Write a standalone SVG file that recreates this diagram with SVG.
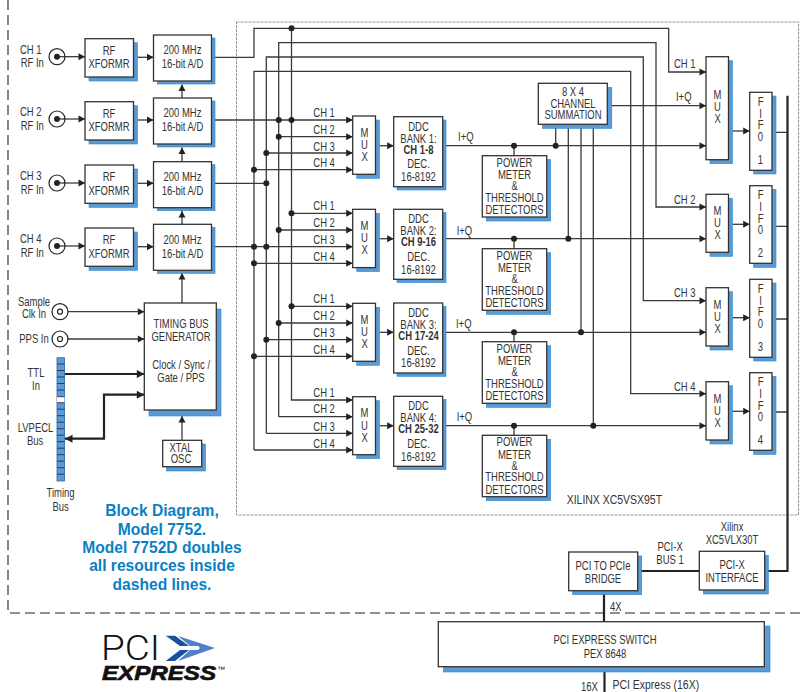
<svg xmlns="http://www.w3.org/2000/svg" width="804" height="692" viewBox="0 0 804 692">
<defs>
<style>
text{font-family:"Liberation Sans",Arial,sans-serif;font-size:12.3px;fill:#333;transform-box:fill-box;transform-origin:0 50%;transform:scaleX(.77)}
.m{text-anchor:middle;transform-origin:50% 50%}
.b{font-weight:bold}
.l{font-size:13.6px}
.box{fill:#fff;stroke:#333;stroke-width:1.3}
.sh{fill:#5b9bd5;stroke:#2b88cc;stroke-width:.6}
.w{fill:none;stroke:#3a3a3a;stroke-width:1.3}
.a{marker-end:url(#ah)}
.t{fill:none;stroke:#222;stroke-width:2.2}
.d{fill:#222}
.blue{font-weight:bold;font-size:15.6px;fill:#0a7fc4;text-anchor:middle;transform:none}
.logo{fill:#111;transform:none}
</style>
<marker id="ah" markerUnits="userSpaceOnUse" markerWidth="8" markerHeight="8" refX="7" refY="4" orient="auto"><path d="M0.5,0.5L7,4L0.5,7.5z" fill="#222"/></marker>
<marker id="ahl" markerUnits="userSpaceOnUse" markerWidth="9" markerHeight="9" refX="8" refY="4.5" orient="auto-start-reverse"><path d="M0.5,0.5L8,4.5L0.5,8.5z" fill="#222"/></marker>
</defs>
<rect width="804" height="692" fill="#fff"/>
<g id="frames">
<path d="M8,0V613H804" fill="none" stroke="#222" stroke-width="1.1" stroke-dasharray="10 5"/>
<rect x="236.5" y="22" width="562" height="493" fill="none" stroke="#999" stroke-width="1" stroke-dasharray="3 1"/>
</g>
<g id="connectors">
<path class="w a" d="M57,56.7H85"/><path class="w a" d="M57,119H85"/><path class="w a" d="M57,183H85"/><path class="w a" d="M57,246H85"/>
<path class="w a" d="M137.5,57.3H153.5"/><path class="w a" d="M137.5,120H153.5"/><path class="w a" d="M137.5,183.3H153.5"/><path class="w a" d="M137.5,246.7H153.5"/>
<path class="w a" d="M182,98V84.5"/><path class="w a" d="M182,161.7V147.5"/><path class="w a" d="M182,224.3V211"/><path class="w a" d="M182,303V273"/>
<path class="w a" d="M60,311.7H144.3"/><path class="w a" d="M60,339H144.3"/>
<path class="t" d="M64.5,374H144.3" marker-end="url(#ahl)"/>
<path class="t" d="M144.3,394.7H104V438.7H65" marker-start="url(#ahl)" marker-end="url(#ahl)"/>
<path class="w a" d="M182,440.3V416"/>
<path class="w a" d="M215,57.3H254V28.3H668.7V72H706"/>
<path class="w a" d="M278.7,416.7V42.7H656V207H706"/>
<path class="w a" d="M266.3,433.3V57H643.3V300.7H706"/>
<path class="w a" d="M254,450V71.3H630.7V393.7H706"/>
<path class="w a" d="M291.5,28.3V400H352.7"/>
<path class="w a" d="M278.7,416.7H352.7"/>
<path class="w a" d="M266.3,433.3H352.7"/>
<path class="w a" d="M254,450H352.7"/>
<path class="w a" d="M215,120H352.7"/><path class="w a" d="M278.7,136.7H352.7"/><path class="w a" d="M266.3,153H352.7"/><path class="w a" d="M254,169.7H352.7"/>
<path class="w" d="M215,183.3H266.3"/>
<path class="w a" d="M291.5,213.3H352.7"/><path class="w a" d="M278.7,230H352.7"/><path class="w a" d="M215,246.7H352.7"/><path class="w a" d="M254,263.3H352.7"/>
<path class="w a" d="M291.5,306.3H352.7"/><path class="w a" d="M278.7,323H352.7"/><path class="w a" d="M266.3,339.7H352.7"/><path class="w a" d="M254,356.3H352.7"/>
<path class="w a" d="M379.5,145.7H393.7"/><path class="w a" d="M379.5,238.7H393.7"/><path class="w a" d="M379.5,332.3H393.7"/><path class="w a" d="M379.5,425.7H393.7"/>
<path class="w a" d="M446,145.7H706"/><path class="w a" d="M446,238.7H706"/><path class="w a" d="M446,332.3H706"/><path class="w a" d="M446,425.7H706"/>
<path class="w" d="M514,145.7V155.7M514,238.7V248.7M514,332.3V341.7M514,425.7V435.3"/>
<path class="w a" d="M611,105.7H706"/>
<path class="w" d="M555.7,128V145.7M568.3,128V238.7M581,128V332.3M593.3,128V425.7"/>
<path class="w a" d="M732.5,131H749.7"/><path class="w a" d="M732.5,224.3H749.7"/><path class="w a" d="M732.5,317.7H749.7"/><path class="w a" d="M732.5,411.3H749.7"/>
<path class="w" d="M776,132.3H787M776,226.3H787M776,319H787M776,412H787"/>
<path class="t" d="M787.5,95.7V571H768"/>
<path class="t" d="M641,571H699.3"/>
<path class="t" d="M604,594V621.7"/>
<path class="t" d="M604.5,672V692"/>
<g class="d">
<circle cx="291.5" cy="28.3" r="3"/>
<circle cx="291.5" cy="120" r="3"/><circle cx="278.7" cy="120" r="3"/><circle cx="278.7" cy="136.7" r="3"/><circle cx="266.3" cy="153" r="3"/><circle cx="254" cy="169.7" r="3"/><circle cx="266.3" cy="183.3" r="3"/>
<circle cx="291.5" cy="213.3" r="3"/><circle cx="278.7" cy="230" r="3"/><circle cx="254" cy="246.7" r="3"/><circle cx="266.3" cy="246.7" r="3"/><circle cx="254" cy="263.3" r="3"/>
<circle cx="291.5" cy="306.3" r="3"/><circle cx="278.7" cy="323" r="3"/><circle cx="266.3" cy="339.7" r="3"/><circle cx="254" cy="356.3" r="3"/>
<circle cx="514" cy="145.7" r="3"/><circle cx="514" cy="238.7" r="3"/><circle cx="514" cy="332.3" r="3"/><circle cx="514" cy="425.7" r="3"/>
<circle cx="555.7" cy="145.7" r="3"/><circle cx="568.3" cy="238.7" r="3"/><circle cx="581" cy="332.3" r="3"/><circle cx="593.3" cy="425.7" r="3"/>
</g>
<g id="connector-labels">
<text x="313.3" y="116.7">CH 1</text><text x="313.3" y="133.7">CH 2</text><text x="313.3" y="150.7">CH 3</text><text x="313.3" y="167.3">CH 4</text>
<text x="313.3" y="210">CH 1</text><text x="313.3" y="227">CH 2</text><text x="313.3" y="244">CH 3</text><text x="313.3" y="261">CH 4</text>
<text x="313.3" y="303">CH 1</text><text x="313.3" y="320">CH 2</text><text x="313.3" y="337.5">CH 3</text><text x="313.3" y="354.5">CH 4</text>
<text x="313.3" y="397">CH 1</text><text x="313.3" y="413.5">CH 2</text><text x="313.3" y="431.5">CH 3</text><text x="313.3" y="448">CH 4</text>
<text x="458" y="141">I+Q</text><text x="456.7" y="235">I+Q</text><text x="456" y="327.7">I+Q</text><text x="456.7" y="421">I+Q</text>
<text x="674" y="67.7">CH 1</text><text x="676" y="100.7">I+Q</text><text x="674" y="203.7">CH 2</text><text x="674" y="297.3">CH 3</text><text x="674" y="390.7">CH 4</text>
<text class="m" x="670" y="551">PCI-X</text><text class="m" x="670" y="564">BUS 1</text>
<text x="610" y="611">4X</text><text x="581" y="691">16X</text><text class="l" x="612.5" y="689">PCI Express (16X)</text>
</g>
</g>
<g id="in1"><text x="20" y="53.7">CH 1</text><text x="20.7" y="67.3">RF In</text><circle cx="57" cy="56.7" r="8" fill="none" stroke="#222" stroke-width="1.2"/><circle cx="57" cy="56.7" r="3" fill="#222"/></g>
<g id="in2"><text x="20" y="116">CH 2</text><text x="20.7" y="129.6">RF In</text><circle cx="57" cy="119" r="8" fill="none" stroke="#222" stroke-width="1.2"/><circle cx="57" cy="119" r="3" fill="#222"/></g>
<g id="in3"><text x="20" y="180">CH 3</text><text x="20.7" y="193.6">RF In</text><circle cx="57" cy="183" r="8" fill="none" stroke="#222" stroke-width="1.2"/><circle cx="57" cy="183" r="3" fill="#222"/></g>
<g id="in4"><text x="20" y="243">CH 4</text><text x="20.7" y="256.6">RF In</text><circle cx="57" cy="246" r="8" fill="none" stroke="#222" stroke-width="1.2"/><circle cx="57" cy="246" r="3" fill="#222"/></g>
<g id="rf1"><rect class="sh" x="89" y="42.7" width="48.5" height="38.3"/><rect class="box" x="85" y="38.7" width="48.5" height="38.3"/><text class="m" x="109" y="55">RF</text><text class="m" x="109" y="68.3">XFORMR</text></g>
<g id="rf2"><rect class="sh" x="89" y="105.7" width="48.5" height="38.3"/><rect class="box" x="85" y="101.7" width="48.5" height="38.3"/><text class="m" x="109" y="118">RF</text><text class="m" x="109" y="131.3">XFORMR</text></g>
<g id="rf3"><rect class="sh" x="89" y="169" width="48.5" height="38.3"/><rect class="box" x="85" y="165" width="48.5" height="38.3"/><text class="m" x="109" y="181.3">RF</text><text class="m" x="109" y="194.6">XFORMR</text></g>
<g id="rf4"><rect class="sh" x="89" y="232" width="48.5" height="38.3"/><rect class="box" x="85" y="228" width="48.5" height="38.3"/><text class="m" x="109" y="244.3">RF</text><text class="m" x="109" y="257.6">XFORMR</text></g>
<g id="ad1"><rect class="sh" x="157.5" y="38" width="57.5" height="46"/><rect class="box" x="153.5" y="35" width="58" height="46"/><text class="m" x="182.5" y="54.3">200 MHz</text><text class="m" x="182.5" y="68.3">16-bit A/D</text></g>
<g id="ad2"><rect class="sh" x="157.5" y="101" width="57.5" height="46"/><rect class="box" x="153.5" y="98" width="58" height="46"/><text class="m" x="182.5" y="117.3">200 MHz</text><text class="m" x="182.5" y="131.3">16-bit A/D</text></g>
<g id="ad3"><rect class="sh" x="157.5" y="164.7" width="57.5" height="46"/><rect class="box" x="153.5" y="161.7" width="58" height="46"/><text class="m" x="182.5" y="181">200 MHz</text><text class="m" x="182.5" y="195">16-bit A/D</text></g>
<g id="ad4"><rect class="sh" x="157.5" y="227.3" width="57.5" height="46"/><rect class="box" x="153.5" y="224.3" width="58" height="46"/><text class="m" x="182.5" y="243.6">200 MHz</text><text class="m" x="182.5" y="257.6">16-bit A/D</text></g>
<g id="clk-inputs"><text class="m" x="34" y="306">Sample</text><text class="m" x="34" y="318">Clk In</text><circle cx="60" cy="311.7" r="8" fill="#fff" stroke="#222" stroke-width="1.2"/><circle cx="60" cy="311.7" r="2.5" fill="#fff" stroke="#222" stroke-width="1.2"/><text class="m" x="34" y="342.7">PPS In</text><circle cx="60" cy="339" r="8" fill="#fff" stroke="#222" stroke-width="1.2"/><circle cx="60" cy="339" r="2.5" fill="#fff" stroke="#222" stroke-width="1.2"/></g>
<g id="timing-bus">
<rect x="57" y="357.7" width="7.5" height="123.3" fill="#5b9bd5" stroke="#2b6ca8" stroke-width=".8"/>
<rect x="57" y="396.7" width="7.5" height="6" fill="#fff"/>
<path d="M57,364H64.5M57,370.5H64.5M57,377H64.5M57,383.5H64.5M57,390H64.5M57,396.7H64.5M57,402.7H64.5M57,409.2H64.5M57,415.7H64.5M57,422.2H64.5M57,428.7H64.5M57,435.2H64.5M57,441.7H64.5M57,448.2H64.5M57,454.7H64.5M57,461.2H64.5M57,467.7H64.5M57,474.2H64.5" stroke="#223" stroke-width=".8" fill="none"/>
<text class="m" x="36" y="377">TTL</text><text class="m" x="36" y="390">In</text><text class="m" x="35.5" y="432">LVPECL</text><text class="m" x="35" y="445">Bus</text><text class="m" x="60.5" y="496.7">Timing</text><text class="m" x="60.5" y="510.7">Bus</text>
</g>
<g id="timing-gen"><rect class="sh" x="149" y="309" width="72" height="107"/><rect class="box" x="144.3" y="303" width="72" height="107"/><text class="m" x="181" y="328">TIMING BUS</text><text class="m" x="181" y="341">GENERATOR</text><text class="m" x="181" y="369">Clock / Sync /</text><text class="m" x="181" y="381.7">Gate / PPS</text></g>
<g id="xtal"><rect class="sh" x="166.5" y="444" width="39" height="27"/><rect class="box" x="162.7" y="440.3" width="39" height="26.4"/><text class="m" x="181" y="451.7">XTAL</text><text class="m" x="181" y="463">OSC</text></g>
<g id="mux1"><rect class="sh" x="356.7" y="120" width="22.8" height="58.3"/><rect class="box" x="352.7" y="116" width="22.8" height="58.3"/><text class="m" x="364.5" y="136.7">M</text><text class="m" x="364.5" y="149">U</text><text class="m" x="364.5" y="161">X</text></g>
<g id="mux2"><rect class="sh" x="356.7" y="213.3" width="22.8" height="58.3"/><rect class="box" x="352.7" y="209.3" width="22.8" height="58.3"/><text class="m" x="364.5" y="230">M</text><text class="m" x="364.5" y="242.3">U</text><text class="m" x="364.5" y="254.3">X</text></g>
<g id="mux3"><rect class="sh" x="356.7" y="307.3" width="22.8" height="58"/><rect class="box" x="352.7" y="303.3" width="22.8" height="58"/><text class="m" x="364.5" y="324">M</text><text class="m" x="364.5" y="336.3">U</text><text class="m" x="364.5" y="348.3">X</text></g>
<g id="mux4"><rect class="sh" x="356.7" y="400.7" width="22.8" height="58"/><rect class="box" x="352.7" y="396.7" width="22.8" height="58"/><text class="m" x="364.5" y="417.4">M</text><text class="m" x="364.5" y="429.7">U</text><text class="m" x="364.5" y="441.7">X</text></g>
<g id="ddc1"><rect class="sh" x="397" y="120" width="49" height="70"/><rect class="box" x="393.7" y="116.7" width="49" height="70"/><text class="m" x="418.5" y="130.7">DDC</text><text class="m" x="418.5" y="142.7">BANK 1:</text><text class="m b" x="418.5" y="153.7">CH 1-8</text><text class="m" x="418.5" y="168.3">DEC.</text><text class="m" x="418.5" y="181">16-8192</text></g>
<g id="ddc2"><rect class="sh" x="397" y="212.6" width="49" height="70"/><rect class="box" x="393.7" y="209.3" width="49" height="70"/><text class="m" x="418.5" y="223.3">DDC</text><text class="m" x="418.5" y="235.3">BANK 2:</text><text class="m b" x="418.5" y="246.3">CH 9-16</text><text class="m" x="418.5" y="260.9">DEC.</text><text class="m" x="418.5" y="273.6">16-8192</text></g>
<g id="ddc3"><rect class="sh" x="397" y="306.3" width="49" height="70"/><rect class="box" x="393.7" y="303" width="49" height="70"/><text class="m" x="418.5" y="317">DDC</text><text class="m" x="418.5" y="329">BANK 3:</text><text class="m b" x="418.5" y="340">CH 17-24</text><text class="m" x="418.5" y="354.6">DEC.</text><text class="m" x="418.5" y="367.3">16-8192</text></g>
<g id="ddc4"><rect class="sh" x="397" y="399.6" width="49" height="70"/><rect class="box" x="393.7" y="396.3" width="49" height="70"/><text class="m" x="418.5" y="410.3">DDC</text><text class="m" x="418.5" y="422.3">BANK 4:</text><text class="m b" x="418.5" y="433.3">CH 25-32</text><text class="m" x="418.5" y="447.9">DEC.</text><text class="m" x="418.5" y="460.6">16-8192</text></g>
<g id="pm1"><rect class="sh" x="486.3" y="159.7" width="64.4" height="61.3"/><rect class="box" x="482.3" y="155.7" width="64.4" height="61.3"/><text class="m" x="514.5" y="166.7">POWER</text><text class="m" x="514.5" y="179">METER</text><text class="m" x="514.5" y="190">&amp;</text><text class="m" x="514.5" y="201.7">THRESHOLD</text><text class="m" x="514.5" y="214">DETECTORS</text></g>
<g id="pm2"><rect class="sh" x="486.3" y="252.7" width="64.4" height="61.6"/><rect class="box" x="482.3" y="248.7" width="64.4" height="61.6"/><text class="m" x="514.5" y="259.7">POWER</text><text class="m" x="514.5" y="272">METER</text><text class="m" x="514.5" y="283">&amp;</text><text class="m" x="514.5" y="294.7">THRESHOLD</text><text class="m" x="514.5" y="307">DETECTORS</text></g>
<g id="pm3"><rect class="sh" x="486.3" y="345.7" width="64.4" height="61.6"/><rect class="box" x="482.3" y="341.7" width="64.4" height="61.6"/><text class="m" x="514.5" y="352.7">POWER</text><text class="m" x="514.5" y="365">METER</text><text class="m" x="514.5" y="376">&amp;</text><text class="m" x="514.5" y="387.7">THRESHOLD</text><text class="m" x="514.5" y="400">DETECTORS</text></g>
<g id="pm4"><rect class="sh" x="486.3" y="439.3" width="64.4" height="61.4"/><rect class="box" x="482.3" y="435.3" width="64.4" height="61.4"/><text class="m" x="514.5" y="446.3">POWER</text><text class="m" x="514.5" y="458.6">METER</text><text class="m" x="514.5" y="469.6">&amp;</text><text class="m" x="514.5" y="481.3">THRESHOLD</text><text class="m" x="514.5" y="493.6">DETECTORS</text></g>
<g id="summation"><rect class="sh" x="542.3" y="87.3" width="69.5" height="41"/><rect class="box" x="538.3" y="83.3" width="69" height="41"/><text class="m" x="573" y="96">8 X 4</text><text class="m" x="573" y="107.7">CHANNEL</text><text class="m" x="573" y="119">SUMMATION</text></g>
<g id="rmux1"><rect class="sh" x="710" y="60.7" width="22.5" height="103"/><rect class="box" x="706" y="56.7" width="22.5" height="103"/><text class="m" x="717.5" y="99">M</text><text class="m" x="717.5" y="111">U</text><text class="m" x="717.5" y="123">X</text></g>
<g id="rmux2"><rect class="sh" x="710" y="198.3" width="22.5" height="58"/><rect class="box" x="706" y="194.3" width="22.5" height="58"/><text class="m" x="717.5" y="215">M</text><text class="m" x="717.5" y="227">U</text><text class="m" x="717.5" y="239">X</text></g>
<g id="rmux3"><rect class="sh" x="710" y="291.7" width="22.5" height="58.3"/><rect class="box" x="706" y="287.7" width="22.5" height="58.3"/><text class="m" x="717.5" y="309.5">M</text><text class="m" x="717.5" y="321.5">U</text><text class="m" x="717.5" y="333">X</text></g>
<g id="rmux4"><rect class="sh" x="710" y="385.7" width="22.5" height="58.3"/><rect class="box" x="706" y="381.7" width="22.5" height="58.3"/><text class="m" x="717.5" y="403">M</text><text class="m" x="717.5" y="415">U</text><text class="m" x="717.5" y="427">X</text></g>
<g id="fifo1"><rect class="sh" x="753.7" y="96" width="22.3" height="78"/><rect class="box" x="749.7" y="92.3" width="22.3" height="78"/><text class="m" x="760.5" y="106">F</text><text class="m" x="760.5" y="117.8">I</text><text class="m" x="760.5" y="129.3">F</text><text class="m" x="760.5" y="141">0</text><text class="m" x="760.5" y="164">1</text></g>
<g id="fifo2"><rect class="sh" x="753.7" y="189.4" width="22.3" height="78"/><rect class="box" x="749.7" y="185.7" width="22.3" height="77.6"/><text class="m" x="760.5" y="199.4">F</text><text class="m" x="760.5" y="211.2">I</text><text class="m" x="760.5" y="222.7">F</text><text class="m" x="760.5" y="234.4">0</text><text class="m" x="760.5" y="257.4">2</text></g>
<g id="fifo3"><rect class="sh" x="753.7" y="283" width="22.3" height="78"/><rect class="box" x="749.7" y="279.3" width="22.3" height="78"/><text class="m" x="760.5" y="293">F</text><text class="m" x="760.5" y="304.8">I</text><text class="m" x="760.5" y="316.3">F</text><text class="m" x="760.5" y="328">0</text><text class="m" x="760.5" y="351">3</text></g>
<g id="fifo4"><rect class="sh" x="753.7" y="376.4" width="22.3" height="78"/><rect class="box" x="749.7" y="372.7" width="22.3" height="77.6"/><text class="m" x="760.5" y="386.4">F</text><text class="m" x="760.5" y="398.2">I</text><text class="m" x="760.5" y="409.7">F</text><text class="m" x="760.5" y="421.4">0</text><text class="m" x="760.5" y="444.4">4</text></g>
<g id="fpga-label"><text class="l" x="566.7" y="503.7">XILINX XC5VSX95T</text></g>
<g id="bridge"><rect class="sh" x="572.7" y="556" width="69" height="38.7"/><rect class="box" x="568.7" y="552" width="69" height="38.7"/><text class="m" x="603" y="570">PCI TO PCIe</text><text class="m" x="603" y="583">BRIDGE</text></g>
<g id="pcix"><rect class="sh" x="703.3" y="555.3" width="65" height="38.7"/><rect class="box" x="699.3" y="551.3" width="65.4" height="38.7"/><text class="m" x="732" y="530.7">Xilinx</text><text class="m" x="732" y="544">XC5VLX30T</text><text class="m" x="732" y="569">PCI-X</text><text class="m" x="732" y="582">INTERFACE</text></g>
<g id="switch"><rect class="sh" x="443.5" y="626" width="326.5" height="46"/><rect class="box" x="438.3" y="621.7" width="326" height="45"/><text class="m" x="605" y="644">PCI EXPRESS SWITCH</text><text class="m" x="605" y="658">PEX 8648</text></g>
<g id="caption"><text class="blue" x="162" y="515.7">Block Diagram,</text><text class="blue" x="162" y="534.5">Model 7752.</text><text class="blue" x="162" y="553">Model 7752D doubles</text><text class="blue" x="162" y="571">all resources inside</text><text class="blue" x="162" y="590">dashed lines.</text></g>
<g id="logo">
<text class="logo" x="101" y="660" style="font-family:Roboto,sans-serif;font-size:35px;font-weight:300" textLength="59" lengthAdjust="spacingAndGlyphs">PCI</text>
<text class="logo" x="102" y="680" style="font-size:20px;font-weight:bold;font-style:italic;stroke:#111;stroke-width:.7" textLength="114" lengthAdjust="spacingAndGlyphs">EXPRESS</text>
<text class="logo" x="217" y="672" style="font-size:8px">™</text>
<path d="M165.7,635.7H175L189,646H180zM165.7,661H175L189,650H180z" fill="#1b4fa0"/>
<path d="M178,636L215,648L178,661L190,650H198L200,648L198,646H190z" fill="#4f80c8"/>
</g>
</svg>
